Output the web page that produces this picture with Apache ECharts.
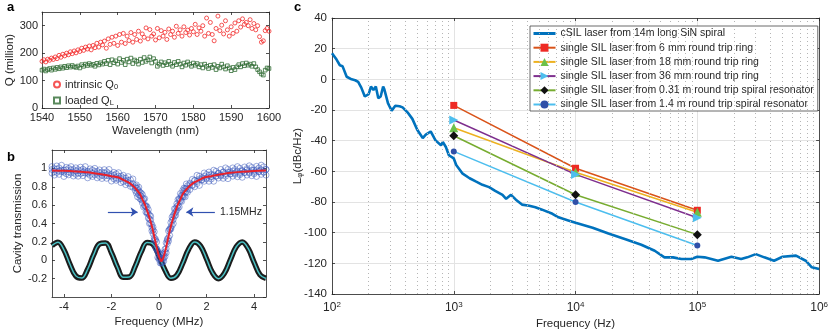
<!doctype html>
<html>
<head>
<meta charset="utf-8">
<script src="https://cdn.jsdelivr.net/npm/echarts@6.0.0/dist/echarts.min.js"></script>
<style>
    html, body {margin: 0; padding: 0; background: #fff;}
    #main {width: 831px; height: 335px;}
</style>
</head>
<body>
<div id="main"></div>
<script>
    // ---- panel a: Q vs wavelength ----
    var wavelength = [
        1540,1540.5,1541,1541.5,1542,1542.5,1543,1543.5,1544,1544.5,
        1545,1545.5,1546,1546.5,1547,1547.5,1548,1548.5,1549,1549.5,
        1550,1550.5,1551,1551.5,1552,1552.5,1553,1553.5,1554,1554.5,
        1555,1555.5,1556,1556.5,1557,1557.5,1558,1558.5,1559,1559.5,
        1560,1560.5,1561,1561.5,1562,1562.5,1563,1563.5,1564,1564.5,
        1565,1565.5,1566,1566.5,1567,1567.5,1568,1568.5,1569,1569.5,
        1570,1570.5,1571,1571.5,1572,1572.5,1573,1573.5,1574,1574.5,
        1575,1575.5,1576,1576.5,1577,1577.5,1578,1578.5,1579,1579.5,
        1580,1580.5,1581,1581.5,1582,1582.5,1583,1583.5,1584,1584.5,
        1585,1585.5,1586,1586.5,1587,1587.5,1588,1588.5,1589,1589.5,
        1590,1590.5,1591,1591.5,1592,1592.5,1593,1593.5,1594,1594.5,
        1595,1595.5,1596,1596.5,1597,1597.5,1598,1598.5,1599,1599.5,
        1600
    ];
    var qIntrinsic = [
        170,176,168,178,174,182,177,186,180,192,
        185,196,190,200,194,205,198,208,201,212,
        206,218,210,222,215,226,212,228,220,236,
        222,240,230,244,218,252,232,258,236,262,
        228,268,240,272,235,262,246,275,240,268,
        250,280,244,270,258,292,252,286,262,270,
        248,290,256,282,262,276,250,288,268,280,
        258,298,272,285,262,296,275,284,266,290,
        278,305,268,292,280,300,262,328,272,312,
        268,245,290,335,282,302,270,318,285,262,
        296,272,310,280,318,295,325,305,312,300,
        322,290,308,285,300,260,240,245,282,290,
        280
    ];
    var qLoaded = [
        138,142,135,140,144,138,146,141,148,143,
        150,145,152,147,154,149,155,150,148,153,
        146,158,152,160,155,162,156,159,152,163,
        157,165,160,170,162,174,158,176,165,172,
        160,180,166,174,158,178,168,182,162,175,
        170,160,178,166,184,170,176,186,164,180,
        170,152,160,168,155,165,158,170,160,152,
        166,158,170,160,150,164,156,168,160,152,
        164,156,162,150,158,146,160,152,144,156,
        148,158,140,152,146,160,150,142,154,146,
        136,148,140,150,158,150,162,154,164,156,
        160,152,162,150,140,132,124,120,138,146,
        144
    ];

    // ---- panel b: cavity transmission ----
    var freqB = [
        -4.5,-4.4,-4.3,-4.2,-4.1,-4.0,-3.9,-3.8,-3.7,-3.6,-3.5,-3.4,-3.3,-3.2,-3.1,-3.0,-2.9,-2.8,
        -2.7,-2.6,-2.5,-2.4,-2.3,-2.2,-2.1,-2.0,-1.9,-1.8,-1.7,-1.6,-1.5,-1.4,-1.3,-1.2,-1.1,-1.0,
        -0.95,-0.9,-0.85,-0.8,-0.75,-0.7,-0.65,-0.6,-0.55,-0.5,-0.45,-0.4,-0.35,-0.3,-0.25,-0.2,
        -0.15,-0.1,-0.05,0,0.05,0.1,0.15,0.2,0.25,0.3,0.35,0.4,0.45,0.5,0.55,0.6,0.65,0.7,0.75,
        0.8,0.85,0.9,0.95,1.0,1.05,1.1,1.15,1.2,
        1.3,1.4,1.5,1.6,1.7,1.8,1.9,2.0,2.1,2.2,2.3,2.4,2.5,2.6,2.7,2.8,2.9,3.0,3.1,3.2,3.3,3.4,
        3.5,3.6,3.7,3.8,3.9,4.0,4.1,4.2,4.3,4.4,4.5
    ];
    var transUpper = [
        1.02,0.997,1.026,1.005,1.034,0.982,1.011,1.0,1.019,0.987,1.006,0.985,1.013,0.991,1.019,0.967,0.995,0.982,
        1.0,0.967,0.983,0.96,0.986,0.962,0.988,0.932,0.956,0.94,0.953,0.915,0.925,0.893,0.91,0.875,0.885,0.81,
        0.82,0.78,0.795,0.74,0.73,0.715,0.67,0.67,0.595,0.58,0.55,0.49,0.48,0.39,0.36,0.31,
        0.23,0.2,0.1,0.08,0.06,0.02,0.07,0.06,0.12,0.19,0.23,0.32,0.34,0.41,0.47,0.49,0.56,0.56,0.615,
        0.66,0.67,0.725,0.71,0.76,0.785,0.78,0.83,0.81,
        0.84,0.88,0.87,0.925,0.915,0.898,0.95,0.935,0.96,0.935,0.98,0.968,0.945,0.988,0.962,1.005,0.988,0.962,1.005,0.987,1.019,1.001,
        0.973,1.015,0.997,1.028,1.01,0.981,1.022,1.004,1.035,1.016,0.987
    ];
    var transMid = [
        0.988,0.965,0.991,0.97,0.982,0.958,0.983,0.962,0.985,0.957,0.972,0.95,0.974,0.954,0.973,0.945,0.964,0.946,
        0.965,0.936,0.951,0.926,0.948,0.924,0.942,0.912,0.925,0.897,0.914,0.887,0.897,0.863,0.87,0.833,0.835,0.79,
        0.785,0.74,0.755,0.705,0.70,0.65,0.66,0.595,0.585,0.525,0.51,0.445,0.44,0.355,0.33,0.245,
        0.215,0.125,0.09,0.025,0.025,-0.025,0.02,0.025,0.09,0.125,0.215,0.245,0.33,0.355,0.435,0.445,0.51,0.525,0.585,
        0.595,0.655,0.65,0.70,0.705,0.75,0.735,0.785,0.775,
        0.822,0.82,0.865,0.857,0.885,0.874,0.912,0.895,0.925,0.907,0.93,0.914,0.947,0.928,0.957,0.937,0.958,0.938,0.97,0.949,0.969,0.947,
        0.975,0.955,0.982,0.958,0.98,0.957,0.984,0.966,0.985,0.962,0.989
    ];
    var transLower = [
        0.948,0.927,0.956,0.935,0.964,0.912,0.941,0.93,0.949,0.917,0.936,0.915,0.943,0.921,0.949,0.897,0.925,0.912,
        0.93,0.897,0.913,0.89,0.916,0.892,0.918,0.862,0.886,0.87,0.883,0.845,0.855,0.823,0.84,0.805,0.795,0.76,
        0.73,0.69,0.715,0.67,0.66,0.625,0.58,0.59,0.525,0.51,0.46,0.4,0.4,0.32,0.29,0.22,
        0.14,0.12,0.03,0.01,-0.03,-0.03,-0.02,-0.01,0.04,0.08,0.18,0.21,0.27,0.34,0.38,0.4,0.48,0.49,0.545,
        0.57,0.58,0.645,0.64,0.69,0.695,0.69,0.75,0.74,
        0.77,0.81,0.8,0.835,0.815,0.878,0.86,0.885,0.86,0.885,0.86,0.918,0.895,0.918,0.892,0.915,0.888,0.942,0.915,0.937,0.909,0.931,
        0.903,0.955,0.927,0.948,0.92,0.941,0.912,0.964,0.935,0.956,0.927
    ];
    var fitFreq = [-4.5,-4.0,-3.5,-3.0,-2.5,-2.0,-1.7,-1.5,-1.3,-1.1,-0.95,-0.8,-0.7,-0.6,-0.5,-0.4,-0.3,-0.2,-0.1,0,
        0.05,0.1,0.15,0.2,0.3,0.4,0.5,0.6,0.7,0.8,0.9,1.0,1.15,1.3,1.5,1.7,1.9,2.2,2.6,3.0,3.5,4.0,4.5];
    var fitTrans = [0.978,0.974,0.967,0.957,0.938,0.915,0.9,0.875,0.85,0.81,0.77,0.72,0.665,0.61,0.54,0.46,0.37,0.26,0.14,0.04,
        0.01,-0.01,0.01,0.04,0.14,0.26,0.37,0.46,0.54,0.61,0.665,0.72,0.77,0.81,0.85,0.875,0.9,0.915,0.935,0.952,0.963,0.971,0.977];
    var calFreq = [-4.5,-4.25,-4.0,-3.75,-3.5,-3.25,-3.0,-2.75,-2.5,-2.25,-2.0,-1.75,-1.5,-1.25,-1.0,-0.75,-0.5,-0.25,0,
        0.25,0.5,0.75,1.0,1.25,1.5,1.75,2.0,2.25,2.5,2.75,3.0,3.25,3.5,3.75,4.0,4.25,4.5];
    var calTrans = [0.16,0.197,0.114,-0.041,-0.17,-0.194,-0.098,0.058,0.178,0.189,0.082,-0.075,-0.186,-0.182,-0.066,0.091,0.192,0.174,0.049,
        -0.106,-0.196,-0.164,-0.031,0.121,0.199,0.154,0.014,-0.135,-0.2,-0.142,0.004,0.147,0.2,0.128,-0.022,-0.159,-0.198];

    // ---- panel c: phase noise ----
    var noiseFreq = [100,109,116,122,132,145,155,164,174,186,200,209,219,229,240,251,263,269,288,309,331,359,380,417,457,501,556,589,646,708,785,813,861,912,
        1000,1047,1096,1175,1349,1514,1718,1950,2188,2512,2692,2951,3236,3631,4169,4677,5309,6457,7244,8710,
        10000,13800,18620,25700,34670,44670,53700,63100,74100,89100,
        100000,114800,147900,190500,229100,257000,302000,354800,426600,501200,645700,776200,871000,1000000];
    var noiseLevel = [17,12.9,9.2,8.6,1.7,0,-0.6,-1.7,-5.4,-11.2,-9.7,-4.7,-6.9,-4.7,-12.3,-11.2,-4.7,-6.5,-15.5,-20.4,-17.2,-17.6,-18.3,-21.5,-25.8,-32.9,-38.3,-36.1,-34,-39.8,-43,-40.9,-44.1,-49.5,
        -51.6,-55.9,-58,-61.3,-64.5,-66.6,-68.8,-70.3,-72.7,-75.3,-77.9,-75.3,-78.5,-81.7,-82.4,-83.4,-85,-87.7,-90,-92,
        -93.5,-96.8,-100.6,-104.3,-107.9,-111.8,-116.1,-116.1,-117.2,-117.2,
        -115.7,-116.1,-118.3,-115.7,-117.2,-116.1,-114,-116.1,-118.3,-115.7,-115,-118.3,-122.6,-123.7];
    var silFreq = [1000, 10000, 100000];
    var sil6mm = [-17, -58, -85.4];
    var sil18mm = [-31.6, -60.6, -86.7];
    var sil36mm = [-26.5, -62, -90.3];
    var sil031m = [-36.8, -75.3, -101.3];
    var sil14m = [-47, -80, -108.4];
    var minorFreq = [200,300,400,500,600,700,800,900,2000,3000,4000,5000,6000,7000,8000,9000,
        20000,30000,40000,50000,60000,70000,80000,90000,200000,300000,400000,500000,600000,700000,800000,900000];

    function zip(xs, ys) {
        return xs.map(function (x, i) { return [x, ys[i]]; });
    }

    var ink = '#262626';
    var font = 'Liberation Sans, Arial, Helvetica, sans-serif';
    function frameAxis(extra) {
        var base = {
            nameMoveOverlap: false,
            axisLine: {show: true, onZero: false, lineStyle: {color: ink, width: 0.8}},
            axisTick: {show: true, inside: true, length: 3, lineStyle: {color: ink, width: 0.8}},
            axisLabel: {color: ink, fontSize: 11, fontFamily: font},
            splitLine: {show: false},
            nameTextStyle: {color: ink, fontSize: 11.5, fontFamily: font}
        };
        return Object.assign(base, extra);
    }

    var dom = document.getElementById('main');
    var myChart = echarts.init(dom, null, {renderer: 'canvas'});
    var silLines = [
        {name: 'single SIL laser from 6 mm round trip ring', data: sil6mm, line: '#D95319', mark: '#EE2A24', symbol: 'rect', size: 7, rot: 0},
        {name: 'single SIL laser from 18 mm round trip ring', data: sil18mm, line: '#EDB120', mark: '#6CC04A', symbol: 'triangle', size: 9, rot: 0},
        {name: 'single SIL laser from 36 mm round trip ring', data: sil36mm, line: '#7E2F8E', mark: '#4DBEEE', symbol: 'triangle', size: 9, rot: -90},
        {name: 'single SIL laser from 0.31 m round trip spiral resonator', data: sil031m, line: '#77AC30', mark: '#111111', symbol: 'diamond', size: 9, rot: 0},
        {name: 'single SIL laser from 1.4 m round trip spiral resonator', data: sil14m, line: '#4DBEEE', mark: '#3050A8', symbol: 'circle', size: 6, rot: 0}
    ];

    var series = [
        {
            name: 'intrinsic Q0', type: 'scatter', xAxisIndex: 0, yAxisIndex: 0,
            symbol: 'circle', symbolSize: 4,
            itemStyle: {color: 'transparent', borderColor: '#F22A2A', borderWidth: 1},
            data: zip(wavelength, qIntrinsic)
        },
        {
            name: 'loaded QL', type: 'scatter', xAxisIndex: 0, yAxisIndex: 0,
            symbol: 'rect', symbolSize: 3.6,
            itemStyle: {color: 'transparent', borderColor: '#2F6B33', borderWidth: 1},
            data: zip(wavelength, qLoaded)
        },
        {
            type: 'line', xAxisIndex: 2, yAxisIndex: 2, symbol: 'none', smooth: 0.4,
            lineStyle: {color: '#1c1c1c', width: 5.5}, z: 2,
            data: zip(calFreq, calTrans)
        },
        {
            type: 'line', xAxisIndex: 2, yAxisIndex: 2, symbol: 'none', smooth: 0.4,
            lineStyle: {color: '#49C1C4', width: 1.5}, z: 3,
            data: zip(calFreq, calTrans)
        },
        {
            type: 'scatter', xAxisIndex: 2, yAxisIndex: 2, symbol: 'circle', symbolSize: 6, z: 4,
            itemStyle: {color: 'transparent', borderColor: 'rgba(55,85,185,0.7)', borderWidth: 0.9},
            data: zip(freqB, transUpper).concat(zip(freqB, transMid), zip(freqB, transLower))
        },
        {
            type: 'line', xAxisIndex: 2, yAxisIndex: 2, symbol: 'none', smooth: 0.3, z: 5,
            lineStyle: {color: '#E8202A', width: 2},
            data: zip(fitFreq, fitTrans),
            markLine: {
                silent: true, symbol: ['none', 'arrow'], symbolSize: 7, animation: false,
                lineStyle: {color: '#3050B0', width: 1.2, type: 'solid'},
                label: {show: false},
                data: [
                    [{coord: [-2.15, 0.525]}, {coord: [-0.9, 0.525]}],
                    [
                        {coord: [2.35, 0.525], label: {show: true, position: 'start', formatter: '1.15MHz', color: ink, fontSize: 10.5, fontFamily: font}},
                        {coord: [1.15, 0.525], label: {show: true, position: 'start', formatter: '1.15MHz', color: ink, fontSize: 10.5, fontFamily: font}}
                    ]
                ]
            }
        },
        {
            type: 'line', xAxisIndex: 4, yAxisIndex: 4, data: [], z: 1,
            markLine: {
                silent: true, symbol: 'none', animation: false, label: {show: false},
                lineStyle: {type: [1, 3], color: '#b5b5b5', width: 1},
                data: minorFreq.map(function (f) { return {xAxis: f}; })
            }
        },
        {
            name: 'cSIL laser from 14m long SiN spiral', type: 'line', xAxisIndex: 4, yAxisIndex: 4,
            symbol: 'none', lineStyle: {color: '#0072BD', width: 2.6}, itemStyle: {color: '#0072BD'}, z: 3,
            data: zip(noiseFreq, noiseLevel)
        }
    ];
    silLines.forEach(function (s) {
        series.push({
            name: s.name, type: 'line', xAxisIndex: 4, yAxisIndex: 4, z: 4,
            symbol: s.symbol, symbolSize: s.size, symbolRotate: s.rot, showAllSymbol: true,
            lineStyle: {color: s.line, width: 1.5},
            itemStyle: {color: s.mark},
            data: zip(silFreq, s.data)
        });
    });

    var option = {
        animation: false,
        backgroundColor: '#fff',
        textStyle: {fontFamily: font},
        title: [
            {text: 'a', left: 2, top: -4, textStyle: {fontSize: 13, fontWeight: 'bold', color: '#000', fontFamily: font}},
            {text: 'b', left: 2, top: 146, textStyle: {fontSize: 13, fontWeight: 'bold', color: '#000', fontFamily: font}},
            {text: 'c', left: 289, top: -4, textStyle: {fontSize: 13, fontWeight: 'bold', color: '#000', fontFamily: font}}
        ],
        legend: [
            {
                data: ['intrinsic Q0', 'loaded QL'], orient: 'vertical', left: 53, top: 79,
                itemWidth: 6, itemHeight: 6, itemGap: 4, padding: 0,
                formatter: function (n) {
                    return n === 'intrinsic Q0' ? '{t|intrinsic Q}{s|0}' : '{t|loaded Q}{s|L}';
                },
                textStyle: {
                    color: ink, fontSize: 11, fontFamily: font,
                    rich: {t: {fontSize: 11, color: ink}, s: {fontSize: 7.5, color: ink, verticalAlign: 'bottom', padding: [5, 0, 0, 0]}}
                }
            },
            {
                data: [{name: 'cSIL laser from 14m long SiN spiral', itemStyle: {opacity: 0}, lineStyle: {width: 3}}]
                    .concat(silLines.map(function (s) { return s.name; })),
                orient: 'vertical', left: 530, top: 26,
                itemWidth: 22, itemHeight: 10, itemGap: 3.2, padding: [2, 4, 1, 2],
                backgroundColor: '#fff', borderColor: '#444', borderWidth: 0.8,
                textStyle: {color: ink, fontSize: 10.5, fontFamily: font}
            }
        ],
        grid: [
            {left: 42, top: 12, width: 227, height: 96},
            {left: 52, top: 150, width: 214, height: 147},
            {left: 332, top: 18, width: 490, height: 279}
        ],
        xAxis: [
            frameAxis({gridIndex: 0, type: 'value', min: 1540, max: 1600, interval: 10,
                name: 'Wavelength (nm)', nameLocation: 'middle', nameGap: 17,
                axisLabel: {color: ink, fontSize: 11, fontFamily: font, margin: 4, formatter: function (v) { return String(v); }}}),
            frameAxis({gridIndex: 0, type: 'value', position: 'top', min: 1540, max: 1600, interval: 10, axisLabel: {show: false}}),
            frameAxis({gridIndex: 1, type: 'value', min: -4.5, max: 4.5,
                name: 'Frequency (MHz)', nameLocation: 'middle', nameGap: 19,
                axisTick: {show: true, inside: true, length: 3, customValues: [-4, -2, 0, 2, 4], lineStyle: {color: ink, width: 0.8}},
                axisLabel: {color: ink, fontSize: 11, fontFamily: font, margin: 4, customValues: [-4, -2, 0, 2, 4]}}),
            frameAxis({gridIndex: 1, type: 'value', position: 'top', min: -4.5, max: 4.5,
                axisTick: {show: true, inside: true, length: 3, customValues: [-4, -2, 0, 2, 4], lineStyle: {color: ink, width: 0.8}},
                axisLabel: {show: false}}),
            frameAxis({gridIndex: 2, type: 'log', logBase: 10, min: 100, max: 1000000,
                name: 'Frequency (Hz)', nameLocation: 'middle', nameGap: 24,
                splitLine: {show: true, lineStyle: {color: '#e3e3e3', width: 1}},
                axisLabel: {
                    color: ink, fontSize: 12, fontFamily: font, margin: 7,
                    formatter: function (v) { return '10{sup|' + Math.round(Math.log10(v)) + '}'; },
                    rich: {sup: {fontSize: 8, color: ink, verticalAlign: 'top', padding: [0, 0, 6, 0]}}
                }}),
            frameAxis({gridIndex: 2, type: 'log', logBase: 10, position: 'top', min: 100, max: 1000000, axisLabel: {show: false}})
        ],
        yAxis: [
            frameAxis({gridIndex: 0, type: 'value', min: 0, max: 350, interval: 100,
                name: 'Q (million)', nameLocation: 'middle', nameGap: 26,
                axisLabel: {color: ink, fontSize: 11, fontFamily: font, showMaxLabel: false, margin: 4}}),
            frameAxis({gridIndex: 0, type: 'value', position: 'right', min: 0, max: 350, interval: 100, axisLabel: {show: false}}),
            frameAxis({gridIndex: 1, type: 'value', min: -0.4, max: 1.2, interval: 0.2,
                name: 'Cavity transmission', nameLocation: 'middle', nameGap: 28,
                axisLabel: {color: ink, fontSize: 11, fontFamily: font, showMaxLabel: false, showMinLabel: false, margin: 5,
                    formatter: function (v) { return String(Math.round(v * 10) / 10); }}}),
            frameAxis({gridIndex: 1, type: 'value', position: 'right', min: -0.4, max: 1.2, interval: 0.2, axisLabel: {show: false}}),
            frameAxis({gridIndex: 2, type: 'value', min: -140, max: 40, interval: 20,
                name: '{a|L}{s|φ}{a|(dBc/Hz)}', nameLocation: 'middle', nameGap: 28,
                nameTextStyle: {color: ink, fontFamily: font, rich: {a: {fontSize: 11.5, color: ink}, s: {fontSize: 8, color: ink, verticalAlign: 'bottom', padding: [5, 0, 0, 0]}}},
                splitLine: {show: true, lineStyle: {color: '#e3e3e3', width: 1}},
                axisLabel: {color: ink, fontSize: 11.5, fontFamily: font, margin: 5}}),
            frameAxis({gridIndex: 2, type: 'value', position: 'right', min: -140, max: 40, interval: 20, axisLabel: {show: false}})
        ],
        series: series
    };

    if (option && typeof option === 'object') {
        myChart.setOption(option, true);
    }
</script>
</body>
</html>
